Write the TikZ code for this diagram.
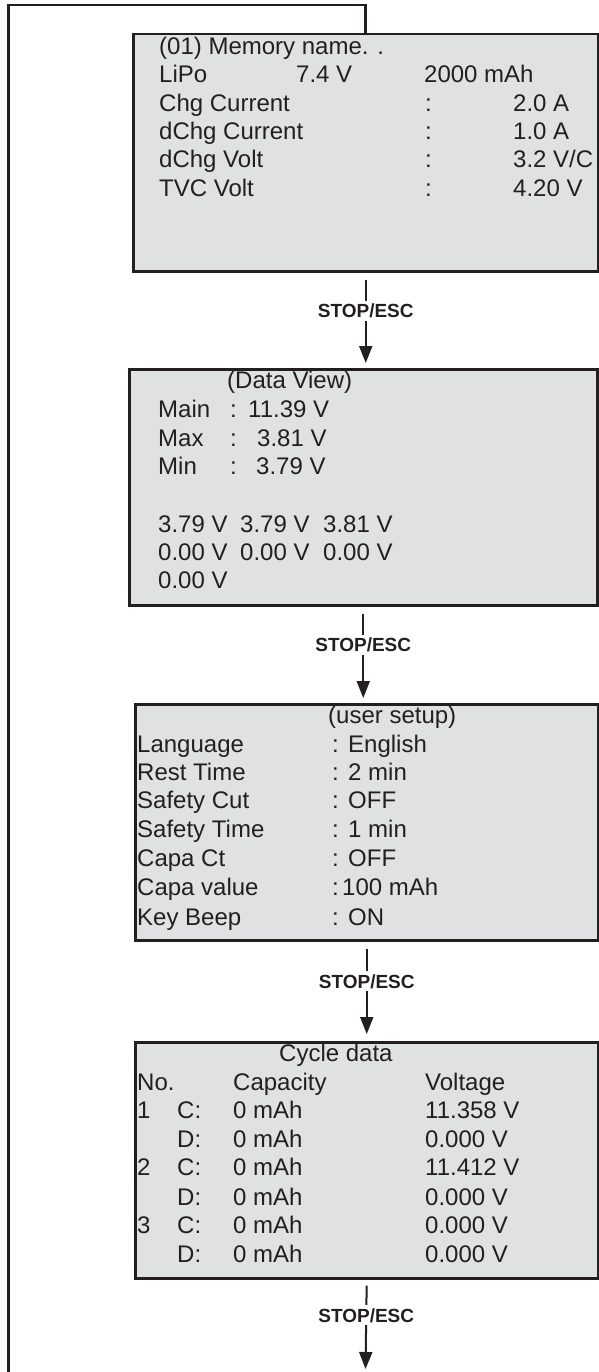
\documentclass[tikz,border=0pt]{standalone}
\usepackage{fontspec}
\setmainfont{Liberation Sans}
\usetikzlibrary{arrows.meta}
\usetikzlibrary{positioning}
\definecolor{panel}{RGB}{224,225,227}
\definecolor{ink}{RGB}{35,31,32}
\newcommand{\field}[2]{\makebox[#1][l]{#2}}
\tikzset{
    screen/.style={
        rectangle,
        draw=ink,
        fill=panel,
        line width=2.5pt,
        inner sep=0pt,
        anchor=north west
    },
    lcd/.style={
        anchor=base west,
        inner sep=0pt,
        text=ink,
        font=\fontsize{24}{28}\selectfont
    },
    arrow/.style={
        -{Triangle[length=17pt,width=13pt]},
        line width=2pt,
        draw=ink
    }
}

\begin{document}
\begin{tikzpicture}[
x=1pt, y=-1pt,
backline/.style={line width=2.7pt, draw=ink},
keytext/.style={fill=white, inner sep=3pt, text=ink, font=\fontsize{19}{21}\selectfont\bfseries}
]
\useasboundingbox (0,0) rectangle (598,1372);

% screens
\node[screen, minimum width=465pt, minimum height=237pt] (memory) at (132,33) {};
\node[screen, minimum width=468pt, minimum height=236pt] (dataview) at (128,368) {};
\node[screen, minimum width=463pt, minimum height=236pt] (usersetup) at (134,703) {};
\node[screen, minimum width=463pt, minimum height=236pt] (cycledata) at (134,1041) {};

% memory screen
\node[lcd] (mem1) at (159,55) {(01) Memory name. .};
\node[lcd] (mem2) at (159,83) {\field{137pt}{LiPo}\field{128pt}{7.4 V}2000 mAh};
\node[lcd] (mem3) at (159,112) {\field{266pt}{Chg Current}\field{88pt}{:}2.0 A};
\node[lcd] (mem4) at (159,140) {\field{266pt}{dChg Current}\field{88pt}{:}1.0 A};
\node[lcd] (mem5) at (159,168) {\field{266pt}{dChg Volt}\field{88pt}{:}3.2 V/C};
\node[lcd] (mem6) at (159,197) {\field{266pt}{TVC Volt}\field{88pt}{:}4.20 V};

% data view screen
\node[lcd] (data1) at (227,388) {(Data View)};
\node[lcd] (data2) at (158,417) {\field{72pt}{Main}\field{18pt}{:}11.39 V};
\node[lcd] (data3) at (158,446) {\field{72pt}{Max}\field{27pt}{:}3.81 V};
\node[lcd] (data4) at (158,474) {\field{72pt}{Min}\field{26pt}{:}3.79 V};
\node[lcd] (data5) at (158,532) {\field{82pt}{3.79 V}\field{83pt}{3.79 V}3.81 V};
\node[lcd] (data6) at (158,560) {\field{82pt}{0.00 V}\field{83pt}{0.00 V}0.00 V};
\node[lcd] (data7) at (158,588) {0.00 V};

% user setup screen
\node[lcd] (user1) at (328,723) {(user setup)};
\node[lcd] (user2) at (137,752) {\field{195pt}{Language}\field{16pt}{:}English};
\node[lcd] (user3) at (137,780) {\field{195pt}{Rest Time}\field{16pt}{:}2 min};
\node[lcd] (user4) at (137,808) {\field{195pt}{Safety Cut}\field{16pt}{:}OFF};
\node[lcd] (user5) at (137,837) {\field{195pt}{Safety Time}\field{16pt}{:}1 min};
\node[lcd] (user6) at (137,866) {\field{195pt}{Capa Ct}\field{16pt}{:}OFF};
\node[lcd] (user7) at (137,895) {\field{195pt}{Capa value}\field{10pt}{:}100 mAh};
\node[lcd] (user8) at (137,925) {\field{195pt}{Key Beep}\field{16pt}{:}ON};

% cycle data screen
\node[lcd] (cyc1) at (279,1061) {Cycle data};
\node[lcd] (cyc2) at (137,1090) {\field{96pt}{No.}\field{192pt}{Capacity}Voltage};
\node[lcd] (cyc3) at (137,1118) {\field{40pt}{1}\field{56pt}{C:}\field{192pt}{0 mAh}11.358 V};
\node[lcd] (cyc4) at (137,1147) {\field{40pt}{}\field{56pt}{D:}\field{192pt}{0 mAh}0.000 V};
\node[lcd] (cyc5) at (137,1175) {\field{40pt}{2}\field{56pt}{C:}\field{192pt}{0 mAh}11.412 V};
\node[lcd] (cyc6) at (137,1205) {\field{40pt}{}\field{56pt}{D:}\field{192pt}{0 mAh}0.000 V};
\node[lcd] (cyc7) at (137,1233) {\field{40pt}{3}\field{56pt}{C:}\field{192pt}{0 mAh}0.000 V};
\node[lcd] (cyc8) at (137,1262) {\field{40pt}{}\field{56pt}{D:}\field{192pt}{0 mAh}0.000 V};

% key presses
\draw[arrow, shorten <=7pt, shorten >=5pt] (memory.south) -- (memory.south |- dataview.north) node[keytext, pos=0.4] {STOP/ESC};
\draw[arrow, shorten <=7pt, shorten >=5pt] (dataview.south) -- (dataview.south |- usersetup.north) node[keytext, pos=0.4] {STOP/ESC};
\draw[arrow, shorten <=7pt, shorten >=7pt] (usersetup.south) -- (usersetup.south |- cycledata.north) node[keytext, pos=0.4] {STOP/ESC};
\coordinate (exit) at (365.5,1369);
\draw[arrow, shorten <=6pt] (cycledata.south) -- (exit) node[keytext, pos=0.4] {STOP/ESC};

% return to first screen
\coordinate (entry) at (8.5,1373);
\coordinate (corner) at (8.5,5);
\draw[backline] (entry) -- (corner) -| (memory.north);
\end{tikzpicture}
\end{document}
